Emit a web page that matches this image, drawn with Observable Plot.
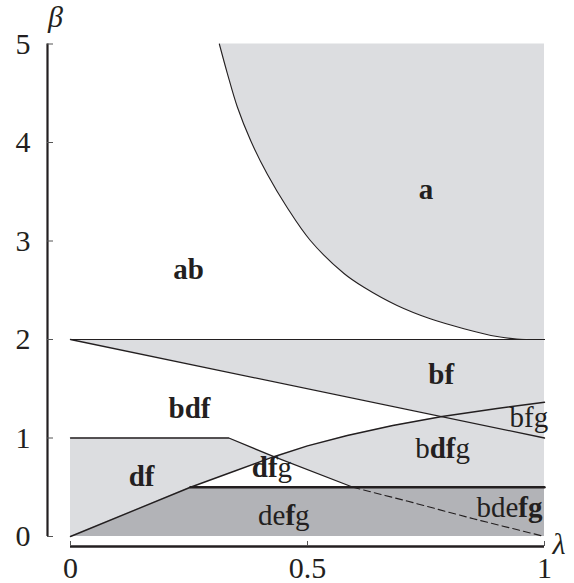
<!DOCTYPE html>
<html>
<head>
<meta charset="utf-8">
<script src="https://cdn.jsdelivr.net/npm/d3@7"></script>
<script src="https://cdn.jsdelivr.net/npm/@observablehq/plot@0.6"></script>
<style>
  html, body { margin: 0; padding: 0; background: #fff; }
  svg text { font-family: "Liberation Serif", "Times New Roman", serif !important; }
</style>
</head>
<body>
<div id="chart"></div>
<script>
// ---- data ----
const xTicks = [0, 0.5, 1];
const yTicks = [0, 1, 2, 3, 4, 5];

// boundary of region "a"
const aLam  = [0.314, 0.331, 0.352, 0.380, 0.415, 0.457, 0.506, 0.577, 0.619, 0.689, 0.759, 0.830, 0.900, 0.942, 1.0];
const aBeta = [5.0,   4.70,  4.36,  4.02,  3.68,  3.34,  3.005, 2.67,  2.53,  2.345, 2.21,  2.11,  2.03,  2.005, 2.0];

// horizontal line beta = 2
const topLam  = [0, 1];
const topBeta = [2, 2];

// descending straight line from (0,2) to (1,1)
const diagLam  = [0, 1];
const diagBeta = [2, 1];

// rising curve from the origin
const riseLam  = [0, 0.253, 0.338, 0.429, 0.5,  0.584, 0.68,  0.784, 0.9,  1.0];
const riseBeta = [0, 0.5,   0.65,  0.81,  0.92, 1.025, 1.127, 1.218, 1.30, 1.363];

// upper boundary of "df" (solid part)
const upperLam  = [0, 0.334, 0.429, 0.596];
const upperBeta = [1, 1,     0.81,  0.5];

// dashed continuation
const dashLam  = [0.596, 0.71, 0.85, 1.0];
const dashBeta = [0.5,   0.36, 0.18, 0];

// thick line beta = 0.5
const halfLam  = [0.253, 1];
const halfBeta = [0.5, 0.5];

// region labels
const labelText = ["a", "ab", "bf", "bdf", "bfg", "bdfg", "dfg", "df", "defg", "bdefg"];
const labelLam  = [0.750, 0.249, 0.782, 0.251, 0.967, 0.785, 0.425, 0.150, 0.450, 0.926];
const labelBeta = [3.43,  2.61,  1.55,  1.20,  1.11,  0.795, 0.60,  0.51,  0.12,  0.196];
const labelBold = ["1", "11", "11", "111", "000", "0110", "110", "11", "0010", "00011"];

// ---- helpers ----
const zip = (xs, ys) => xs.map((x, i) => ({x, y: ys[i]}));
const LIGHT = "#dcdde0";
const DARK = "#b2b3b7";
const INK = "#231f20";
const SERIF = "Liberation Serif, Times New Roman, serif";

const crossIdx = riseLam.indexOf(0.429);
const upCross = upperLam.indexOf(0.429);

// white "dfg" triangle: rising curve up to the crossing, then the descending curve down to beta = 0.5
const dfgPoly = [
  ...zip(riseLam, riseBeta).slice(1, crossIdx + 1),
  ...zip(upperLam, upperBeta).slice(upCross + 1)
];

const regionA = aLam.map((x, i) => ({x, y1: aBeta[i], y2: 5}));
const regionBF = diagLam.map((x, i) => ({x, y1: diagBeta[i], y2: topBeta[i]}));
const underRise = riseLam.map((x, i) => ({x, y1: 0, y2: riseBeta[i]}));
const underUpper = upperLam.slice(0, upCross + 1).map((x, i) => ({x, y1: 0, y2: upperBeta[i]}));
const darkRegion = [
  {x: riseLam[0], y1: 0, y2: riseBeta[0]},
  {x: riseLam[1], y1: 0, y2: riseBeta[1]},
  {x: halfLam[1], y1: 0, y2: halfBeta[1]}
];

const labels = labelText.map((t, i) => ({t, x: labelLam[i], y: labelBeta[i]}));

const chart = Plot.plot({
  width: 574,
  height: 583,
  marginLeft: 70,
  marginRight: 30,
  marginTop: 43.5,
  marginBottom: 47,
  x: {domain: [0, 1]},
  y: {domain: [0, 5]},
  style: {fontFamily: SERIF, background: "#fff", color: INK},
  marks: [
    // shaded regions
    Plot.areaY(regionA, {x: "x", y1: "y1", y2: "y2", fill: LIGHT, curve: "catmull-rom"}),
    Plot.areaY(regionBF, {x: "x", y1: "y1", y2: "y2", fill: LIGHT}),
    Plot.areaY(underRise, {x: "x", y1: "y1", y2: "y2", fill: LIGHT}),
    Plot.areaY(underUpper, {x: "x", y1: "y1", y2: "y2", fill: LIGHT}),
    Plot.line(dfgPoly, {x: "x", y: "y", fill: "#fff", stroke: "none"}),
    Plot.areaY(darkRegion, {x: "x", y1: "y1", y2: "y2", fill: DARK}),

    // boundary curves
    Plot.line(zip(aLam, aBeta), {x: "x", y: "y", stroke: INK, strokeWidth: 1.1, curve: "catmull-rom"}),
    Plot.line(zip(topLam, topBeta), {x: "x", y: "y", stroke: INK, strokeWidth: 1.2}),
    Plot.line(zip(diagLam, diagBeta), {x: "x", y: "y", stroke: INK, strokeWidth: 1.3}),
    Plot.line(zip(riseLam, riseBeta), {x: "x", y: "y", stroke: INK, strokeWidth: 1.4}),
    Plot.line(zip(upperLam, upperBeta), {x: "x", y: "y", stroke: INK, strokeWidth: 1.3}),
    Plot.line(zip(dashLam, dashBeta), {x: "x", y: "y", stroke: INK, strokeWidth: 1.1, strokeDasharray: "7,4"}),
    Plot.line(zip(halfLam, halfBeta), {x: "x", y: "y", stroke: INK, strokeWidth: 2.4}),

    // axes
    Plot.ruleX([0], {dx: -23, stroke: INK, strokeWidth: 2.2}),
    Plot.ruleY([0], {dy: 10, stroke: INK, strokeWidth: 2.4}),
    Plot.axisY(yTicks, {anchor: "left", tickSize: 6, dx: -17, tickPadding: 17, fontSize: 30, fontFamily: SERIF, label: null, stroke: "#555", tickFormat: d => String(d)}),
    Plot.axisX(xTicks, {anchor: "bottom", tickSize: 5, dy: 5, tickPadding: 10, fontSize: 30, fontFamily: SERIF, label: null, stroke: "#555", tickFormat: d => String(d)}),
    Plot.text(["β"], {frameAnchor: "top-left", dx: -22.5, dy: -17, lineAnchor: "bottom", fontSize: 30, fontFamily: SERIF, fontStyle: "italic", fill: INK}),
    Plot.text(["λ"], {frameAnchor: "bottom-right", dx: 21, dy: 17, lineAnchor: "bottom", fontSize: 30, fontFamily: SERIF, fontStyle: "italic", fill: INK}),

    // region labels
    Plot.text(labels, {x: "x", y: "y", text: "t", textAnchor: "middle", lineAnchor: "bottom", fontSize: 29, fontFamily: SERIF, fill: INK})
  ]
});

// mixed bold/regular letters inside the region labels
const boldMap = new Map(labelText.map((t, i) => [t, labelBold[i]]));
chart.querySelectorAll("text").forEach(el => {
  const t = el.textContent;
  if (!boldMap.has(t) || el.children.length) return;
  const mask = boldMap.get(t);
  el.textContent = "";
  for (let i = 0; i < t.length; i++) {
    const ts = document.createElementNS("http://www.w3.org/2000/svg", "tspan");
    ts.textContent = t[i];
    ts.setAttribute("font-weight", mask[i] === "1" ? "bold" : "normal");
    el.appendChild(ts);
  }
});

document.getElementById("chart").appendChild(chart);
</script>
</body>
</html>
